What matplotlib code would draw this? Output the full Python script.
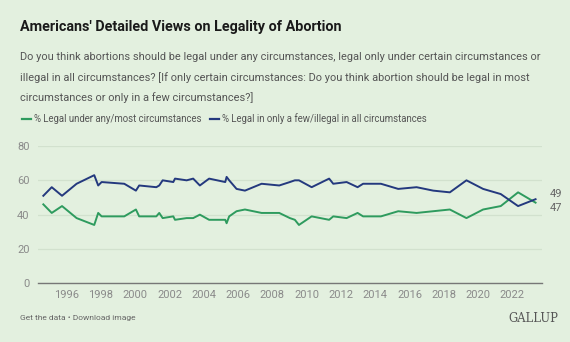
import matplotlib.pyplot as plt

plt.rcParams['font.family'] = ['Roboto', 'DejaVu Sans']

# survey dates (decimal years) and percentages
years = [1994.64, 1995.13, 1995.73, 1996.58, 1997.61, 1997.84, 1998.04, 1999.36,
         2000.04, 2000.23, 2001.23, 2001.4, 2001.6, 2002.22, 2002.32, 2003.0,
         2003.38, 2003.77, 2004.31, 2005.25, 2005.33, 2005.48, 2005.91, 2006.4,
         2007.37, 2008.4, 2009.02, 2009.31, 2009.55, 2010.29, 2011.31, 2011.55,
         2012.33, 2012.97, 2013.29, 2014.33, 2015.34, 2016.41, 2017.38, 2018.35,
         2019.32, 2020.29, 2021.32, 2022.33, 2023.35]
legal_most = [46, 41, 45, 38, 34, 41, 39, 39, 43, 39, 39, 41, 38, 39, 37, 38,
              38, 40, 37, 37, 35, 39, 42, 43, 41, 41, 38, 37, 34, 39, 37, 39,
              38, 41, 39, 39, 42, 41, 42, 43, 38, 43, 45, 53, 47]
legal_few = [51, 56, 51, 58, 63, 57, 59, 58, 54, 57, 56, 57, 60, 59, 61, 60,
             61, 57, 61, 59, 62, 60, 55, 54, 58, 57, 59, 60, 60, 56, 61, 58,
             59, 56, 58, 58, 55, 56, 54, 53, 60, 55, 52, 45, 49]
xticks = list(range(1996, 2023, 2))
yticks = [0, 20, 40, 60, 80]

bg = '#E3F0DF'
green = '#2E9B5E'
blue = '#24397E'

fig = plt.figure(figsize=(5.7, 3.42), dpi=100, facecolor=bg)
ax = fig.add_axes([0.0667, 0.1716, 0.884, 0.4015], facecolor=bg)

ax.plot(years, legal_most, color=green, lw=1.4, zorder=3)
ax.plot(years, legal_few, color=blue, lw=1.4, zorder=3)

ax.set_xlim(1994.33, 2023.72)
ax.set_ylim(0, 80)
ax.set_xticks(xticks)
ax.set_yticks(yticks)
ax.grid(axis='y', color='#D2E1CE', lw=0.9)
ax.set_axisbelow(True)
for s in ['top', 'right', 'left']:
    ax.spines[s].set_visible(False)
ax.spines['bottom'].set_color('#777777')
ax.spines['bottom'].set_linewidth(1)
ax.tick_params(axis='both', length=0, labelsize=8, colors='#8A8A8A', pad=5)
ax.tick_params(axis='y', pad=6)

# end labels
ax.annotate(str(legal_few[-1]), xy=(years[-1], legal_few[-1]), xytext=(10, 4),
            textcoords='offset points', fontsize=8, color='#666666', va='center')
ax.annotate(str(legal_most[-1]), xy=(years[-1], legal_most[-1]), xytext=(10, -4),
            textcoords='offset points', fontsize=8, color='#666666', va='center')

fig.text(0.035, 0.921, "Americans' Detailed Views on Legality of Abortion",
         fontsize=10.4, fontweight='bold', color='#1A1A1A', va='center')
sub = ["Do you think abortions should be legal under any circumstances, legal only under certain circumstances or",
       "illegal in all circumstances? [If only certain circumstances: Do you think abortion should be legal in most",
       "circumstances or only in a few circumstances?]"]
for i, line in enumerate(sub):
    fig.text(0.035, 0.832 - i * 0.059, line, fontsize=7.95, color='#555555', va='center')

# legend
ly = 0.652
fig.lines.append(plt.Line2D([0.038, 0.054], [ly, ly], color=green, lw=1.6,
                            transform=fig.transFigure))
fig.text(0.060, ly, '% Legal under any/most circumstances', fontsize=6.9,
         color='#555555', va='center')
fig.lines.append(plt.Line2D([0.368, 0.384], [ly, ly], color=blue, lw=1.6,
                            transform=fig.transFigure))
fig.text(0.390, ly, '% Legal in only a few/illegal in all circumstances', fontsize=6.9,
         color='#555555', va='center')

fig.text(0.035, 0.07, 'Get the data \u2022 Download image', fontsize=6.0,
         color='#666666', va='center')
fig.text(0.98, 0.07, 'GALLUP', fontsize=8.3, family='DejaVu Serif',
         color='#555555', va='center', ha='right')

fig.savefig('out.png', dpi=100, facecolor=bg)
